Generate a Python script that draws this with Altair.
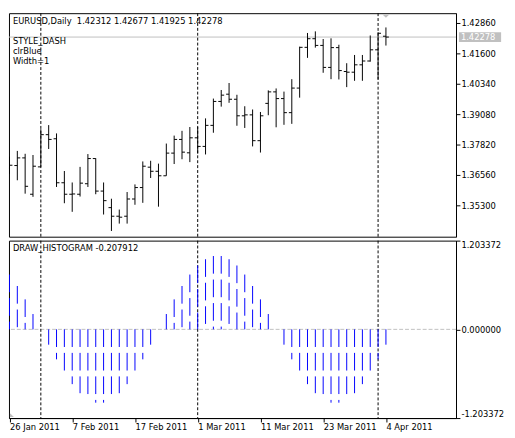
import altair as alt
import pandas as pd

# ---------------- data ----------------
symbol = "EURUSD"
timeframe = "Daily"
style_lines = ["STYLE_DASH", "clrBlue", "Width=1"]
hist_name = "DRAW_HISTOGRAM"

opens = [1.36835, 1.36943, 1.37260, 1.35751, 1.36887, 1.38225, 1.38055, 1.36228, 1.35751, 1.35751,
         1.36188, 1.37233, 1.35882, 1.35195, 1.34838, 1.34838, 1.35553, 1.36029, 1.36875, 1.36704,
         1.36518, 1.37459, 1.38027, 1.37471, 1.38094, 1.37737, 1.38611, 1.39604, 1.39905, 1.39695,
         1.39008, 1.39047, 1.37975, 1.39524, 1.40001, 1.39723, 1.39139, 1.40159, 1.41851, 1.42209,
         1.41931, 1.41017, 1.41839, 1.40847, 1.40819, 1.41125, 1.41283, 1.41748, 1.42312]
highs = [1.37312, 1.37550, 1.37431, 1.37380, 1.38452, 1.38622, 1.38277, 1.36716, 1.36240, 1.36887,
         1.37419, 1.37244, 1.36240, 1.35565, 1.35116, 1.35843, 1.36160, 1.37113, 1.37141, 1.37022,
         1.37856, 1.38186, 1.38384, 1.38543, 1.38543, 1.38901, 1.39723, 1.40080, 1.40370, 1.39881,
         1.39405, 1.39270, 1.39167, 1.40064, 1.40144, 1.40013, 1.40529, 1.41879, 1.42447, 1.42514,
         1.42197, 1.42225, 1.41958, 1.41192, 1.41534, 1.41534, 1.42344, 1.42475, 1.42677]
lows = [1.36597, 1.36331, 1.35775, 1.35644, 1.36887, 1.37630, 1.36053, 1.35378, 1.35021, 1.35656,
        1.36053, 1.35751, 1.34909, 1.34226, 1.34532, 1.34532, 1.35314, 1.35394, 1.36426, 1.35235,
        1.36518, 1.37006, 1.37205, 1.37086, 1.37443, 1.37403, 1.38305, 1.39389, 1.39548, 1.38595,
        1.38503, 1.37737, 1.37483, 1.39032, 1.38531, 1.38634, 1.38674, 1.39762, 1.41414, 1.41839,
        1.40795, 1.40529, 1.40517, 1.40199, 1.40461, 1.40461, 1.41256, 1.40517, 1.41925]
closes = [1.36955, 1.37260, 1.36081, 1.36915, 1.38225, 1.38027, 1.36228, 1.35751, 1.35763, 1.36212,
          1.37233, 1.35882, 1.35485, 1.34838, 1.34798, 1.35553, 1.36029, 1.36915, 1.36704, 1.36518,
          1.37459, 1.38027, 1.37499, 1.38094, 1.37737, 1.38611, 1.39604, 1.39866, 1.39695, 1.39008,
          1.39047, 1.37975, 1.39008, 1.40001, 1.39723, 1.39139, 1.40159, 1.41851, 1.42209, 1.41931,
          1.41017, 1.41839, 1.40886, 1.40819, 1.41125, 1.41283, 1.41748, 1.42435, 1.42278]
hist = [0.743145, 0.587785, 0.406737, 0.207912, 0.0, -0.207912, -0.406737, -0.587785, -0.743145, -0.866025,
        -0.951057, -0.994522, -0.994522, -0.951057, -0.866025, -0.743145, -0.587785, -0.406737, -0.207912, 0.0,
        0.207912, 0.406737, 0.587785, 0.743145, 0.866025, 0.951057, 0.994522, 0.994522, 0.951057, 0.866025,
        0.743145, 0.587785, 0.406737, 0.207912, 0.0, -0.207912, -0.406737, -0.587785, -0.743145, -0.866025,
        -0.951057, -0.994522, -0.994522, -0.951057, -0.866025, -0.743145, -0.587785, -0.406737, -0.207912]

tick_bars = [0, 8, 16, 24, 32, 40, 48]
tick_labels = ["26 Jan 2011", "7 Feb 2011", "17 Feb 2011", "1 Mar 2011",
               "11 Mar 2011", "23 Mar 2011", "4 Apr 2011"]
separator_bars = [4, 24, 47]
price_ticks = [1.35300, 1.36560, 1.37820, 1.39080, 1.40340, 1.41600, 1.42860]
price_domain = [1.33988, 1.43269]
hist_ticks = [-1.203372, 0.0, 1.203372]
hist_tick_labels = ["-1.203372", "0.000000", "1.203372"]
hist_domain = [-1.203372, 1.203372]

# ---------------- layout / style ----------------
W = 456
H1 = 228
H2 = 181
FONT = "DejaVu Sans"
FS = 8.5
SILVER = "#c0c0c0"
BLUE = "#0000ff"

n = len(closes)
df = pd.DataFrame({"bar": list(range(n)), "open": opens, "high": highs,
                   "low": lows, "close": closes, "hist": hist})
df["top"] = df["hist"].clip(lower=0)
df["bottom"] = df["hist"].clip(upper=0)

sep_df = pd.DataFrame({"bar": separator_bars})
bid_df = pd.DataFrame({"price": [closes[-1]]})
last_df = pd.DataFrame({"bar": [n - 1]})

x_dom = [-1 / 16, -1 / 16 + W / 8]
x_scale = alt.Scale(domain=x_dom, nice=False, zero=False)
X_top = alt.X("bar:Q", scale=x_scale, axis=None)

x_label_expr = ("[" + ",".join(f"'{t}'" for t in tick_labels) + "][indexof(["
                + ",".join(str(b) for b in tick_bars) + "], datum.value)]")
x_axis_b = alt.Axis(values=tick_bars, labelExpr=x_label_expr, labelAlign="left",
                    labelPadding=1, tickSize=4, labelOverlap=False, labelFlush=False,
                    labelBound=False, grid=False, title=None)
X_bot = alt.X("bar:Q", scale=x_scale, axis=x_axis_b)

yt_scale = alt.Scale(domain=price_domain, nice=False, zero=False)
yt_axis = alt.Axis(orient="right", values=price_ticks, format=".5f", tickSize=4,
                   labelPadding=1, grid=False, title=None, labelFlush=False, labelOverlap=False)

def YT(field):
    return alt.Y(field, scale=yt_scale, axis=yt_axis)

# ---------------- top panel ----------------
sep_top = alt.Chart(sep_df).mark_rule(color="black", strokeDash=[3, 2]).encode(x=X_top)
bid_line = alt.Chart(bid_df).mark_rule(color=SILVER).encode(y=YT("price:Q"))
hl = alt.Chart(df).mark_rule(color="black", clip=True).encode(
    x=X_top, y=YT("low:Q"), y2="high:Q")
op = alt.Chart(df).mark_rule(color="black", clip=True, xOffset=-3, x2Offset=0).encode(
    x=X_top, x2="bar:Q", y=YT("open:Q"))
cl = alt.Chart(df).mark_rule(color="black", clip=True, xOffset=0, x2Offset=3).encode(
    x=X_top, x2="bar:Q", y=YT("close:Q"))

header_text = (f"{symbol},{timeframe}\u00a0 {opens[-1]:.5f} {highs[-1]:.5f} "
               f"{lows[-1]:.5f} {closes[-1]:.5f}")
header = alt.Chart(pd.DataFrame({"t": [header_text]})).mark_text(
    align="left", baseline="middle", font=FONT, fontSize=FS, color="black"
).encode(x=alt.value(4), y=alt.value(8), text="t:N")
style_txt = alt.Chart(pd.DataFrame({"t": ["\n".join(style_lines)]})).mark_text(
    align="left", baseline="top", font=FONT, fontSize=FS, color="black",
    lineBreak="\n", lineHeight=10.6
).encode(x=alt.value(4), y=alt.value(24), text="t:N")

bid_box = alt.Chart(bid_df).mark_rule(color=SILVER, strokeWidth=10).encode(
    x=alt.value(W + 3), x2=alt.value(W + 46), y=YT("price:Q"))
bid_txt = alt.Chart(bid_df).mark_text(
    align="left", baseline="middle", font=FONT, fontSize=FS, color="white"
).encode(x=alt.value(W + 5), y=YT("price:Q"), text=alt.Text("price:Q", format=".5f"))
shift_mark = alt.Chart(last_df).mark_point(
    shape="M-1,-0.5L1,-0.5L0,0.5Z", filled=True, color=SILVER, opacity=1, size=49
).encode(x=X_top, y=alt.value(3))

top = alt.layer(bid_line, sep_top, hl, op, cl, header, style_txt, bid_box, bid_txt,
                shift_mark).properties(width=W, height=H1)

# ---------------- bottom panel ----------------
yb_scale = alt.Scale(domain=hist_domain, nice=False, zero=False)
yb_label_expr = ("[" + ",".join(f"'{t}'" for t in hist_tick_labels) + "][indexof(["
                 + ",".join(str(v) for v in hist_ticks) + "], datum.value)]")
yb_axis = alt.Axis(orient="right", values=hist_ticks, labelExpr=yb_label_expr,
                   labelFlush=True, tickSize=4, labelPadding=1, grid=False,
                   title=None, labelOverlap=False)

def YB(field):
    return alt.Y(field, scale=yb_scale, axis=yb_axis)

zero_line = alt.Chart(pd.DataFrame({"v": [0.0]})).mark_rule(
    color=SILVER, strokeDash=[4, 2]).encode(y=YB("v:Q"))
sep_bot = alt.Chart(sep_df).mark_rule(color="black", strokeDash=[3, 2]).encode(x=X_bot)
bars = alt.Chart(df).mark_rule(color=BLUE, strokeDash=[18, 6], clip=True).encode(
    x=X_bot, y=YB("top:Q"), y2="bottom:Q")
hist_txt = alt.Chart(pd.DataFrame({"t": [f"{hist_name} {hist[-1]:.6f}"]})).mark_text(
    align="left", baseline="middle", font=FONT, fontSize=FS, color="black"
).encode(x=alt.value(4), y=alt.value(8), text="t:N")
corner = alt.Chart(pd.DataFrame({"t": [""]})).mark_point(
    shape="M-1,-1L1,1L-1,1Z", filled=True, color=SILVER, opacity=1, size=16
).encode(x=alt.value(3), y=alt.value(H2 - 3))

bottom = alt.layer(zero_line, sep_bot, bars, hist_txt, corner).properties(width=W, height=H2)

chart = alt.vconcat(top, bottom, spacing=2).properties(
    padding={"left": 0, "top": 0, "right": 0, "bottom": 0}, background="white"
).configure_view(stroke="black", strokeWidth=1).configure_axis(
    labelFont=FONT, labelFontSize=FS, labelColor="black", tickColor="black",
    domainColor="black", domainWidth=1, tickWidth=1)

chart.save("out.html", embed_options={"renderer": "svg", "actions": False})
